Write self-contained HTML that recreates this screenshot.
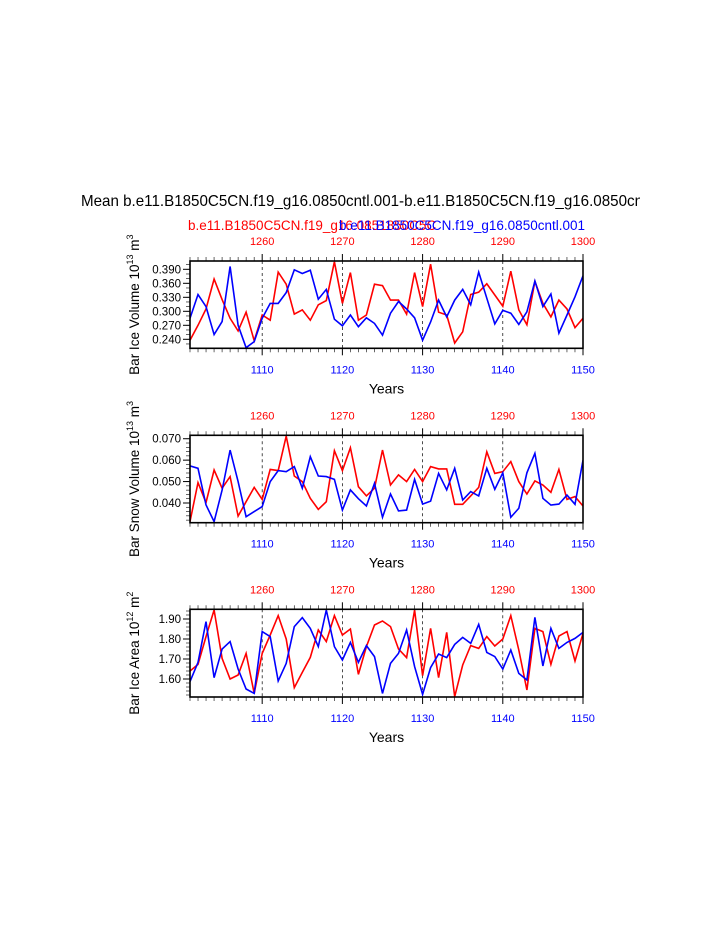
<!DOCTYPE html>
<html><head><meta charset="utf-8"><style>
body{margin:0;background:#fff;}
svg{display:block;font-family:"Liberation Sans",Arial,sans-serif;}
</style></head><body>
<svg id="chart" width="723" height="935" viewBox="0 0 723 935" xmlns="http://www.w3.org/2000/svg">
<defs><clipPath id="tclip"><rect x="82" y="180" width="558" height="40"/></clipPath></defs>
<text x="81" y="206" font-size="16" textLength="562" lengthAdjust="spacingAndGlyphs" clip-path="url(#tclip)">Mean b.e11.B1850C5CN.f19_g16.0850cntl.001-b.e11.B1850C5CN.f19_g16.0850cn</text>
<text x="188" y="230" font-size="13.5" fill="#f00">b.e11.B1850C5CN.f19_g16.0851850C5C</text>
<text x="585" y="230" font-size="13.5" fill="#00f" text-anchor="end">b.e11.B1850C5CN.f19_g16.0850cntl.001</text>
</svg>
<script>
const years = Array.from({length:50},(_,i)=>1101+i);
const topTicks = [1260,1270,1280,1290,1300];
const bottomTicks = [1110,1120,1130,1140,1150];
const iceVolBlue = [0.285,0.336,0.31,0.250,0.278,0.396,0.27,0.222,0.235,0.285,0.317,0.317,0.340,0.389,0.381,0.388,0.326,0.347,0.283,0.269,0.292,0.267,0.286,0.274,0.249,0.296,0.321,0.305,0.286,0.238,0.277,0.324,0.288,0.324,0.347,0.314,0.384,0.328,0.273,0.302,0.296,0.272,0.299,0.365,0.310,0.337,0.253,0.292,0.331,0.376];
const iceVolRed = [0.238,0.270,0.305,0.369,0.325,0.285,0.258,0.298,0.237,0.292,0.281,0.384,0.358,0.294,0.303,0.281,0.314,0.323,0.406,0.317,0.383,0.281,0.292,0.358,0.355,0.324,0.324,0.294,0.383,0.310,0.401,0.298,0.292,0.232,0.256,0.336,0.341,0.359,0.335,0.311,0.386,0.303,0.271,0.364,0.317,0.288,0.324,0.305,0.265,0.285];
const snowBlue = [0.0573,0.0562,0.0391,0.0313,0.046,0.0647,0.050,0.0336,0.036,0.0383,0.050,0.0551,0.0546,0.057,0.0469,0.0616,0.0526,0.0523,0.051,0.0367,0.0461,0.042,0.0386,0.0492,0.0333,0.0442,0.0363,0.0367,0.051,0.0395,0.0409,0.0538,0.0461,0.0562,0.0414,0.0453,0.0433,0.0562,0.0464,0.0541,0.0333,0.0375,0.0541,0.0632,0.0422,0.039,0.0395,0.0437,0.0394,0.060];
const snowRed = [0.0313,0.0495,0.0402,0.0554,0.0469,0.0523,0.0339,0.0406,0.0473,0.0417,0.0557,0.0551,0.0712,0.0526,0.050,0.0422,0.0370,0.0406,0.0644,0.0551,0.0658,0.0476,0.0433,0.0469,0.0647,0.0484,0.0531,0.050,0.0557,0.050,0.057,0.0559,0.0559,0.0394,0.0394,0.0433,0.0473,0.0639,0.0538,0.0546,0.0593,0.050,0.0442,0.0503,0.0484,0.045,0.0557,0.0417,0.0430,0.0386];
const areaBlue = [1.587,1.683,1.887,1.607,1.75,1.787,1.65,1.55,1.528,1.837,1.812,1.59,1.678,1.862,1.907,1.853,1.762,1.945,1.762,1.695,1.783,1.683,1.767,1.712,1.528,1.678,1.728,1.845,1.662,1.523,1.657,1.725,1.707,1.773,1.808,1.778,1.873,1.733,1.712,1.65,1.745,1.628,1.595,1.908,1.665,1.853,1.753,1.783,1.803,1.833];
const areaRed = [1.64,1.673,1.812,1.945,1.703,1.60,1.62,1.728,1.528,1.728,1.82,1.917,1.80,1.557,1.633,1.708,1.845,1.787,1.917,1.82,1.85,1.623,1.762,1.87,1.89,1.862,1.75,1.707,1.945,1.617,1.853,1.607,1.833,1.512,1.67,1.767,1.753,1.812,1.765,1.80,1.917,1.745,1.545,1.853,1.837,1.673,1.815,1.837,1.69,1.828];
const volTicks = [0.240,0.270,0.300,0.330,0.360,0.390];
const snowTicks = [0.040,0.050,0.060,0.070];
const areaTicks = [1.60,1.70,1.80,1.90];

const svg=document.getElementById('chart');
const NS='http://www.w3.org/2000/svg';
function mk(tag,attrs,parent){const e=document.createElementNS(NS,tag);for(const k in attrs)e.setAttribute(k,attrs[k]);(parent||svg).appendChild(e);return e;}
const X0=190,X1=583;
function xs(y){return X0+(y-1101)*(X1-X0)/49;}

function panel(id,top,bot,vmin,vmax,ticks,dec,minorStep,blue,red,titleMain,titleExp){
  const g=mk('g',{});
  
  
  const ys=v=>bot-(v-vmin)*(bot-top)/(vmax-vmin);
  [1110,1120,1130,1140].forEach(t=>{const l=mk('line',{x1:xs(t),x2:xs(t),y1:top,y2:bot,stroke:'#000','stroke-width':0.7,'stroke-dasharray':'3,3'},g);
    });
  years.forEach(y=>{const big=(y%10===0);const L=big?7:4;
    mk('line',{x1:xs(y),x2:xs(y),y1:top,y2:top-L,stroke:'#000','stroke-width':big?1:0.6},g);
    mk('line',{x1:xs(y),x2:xs(y),y1:bot,y2:bot+L,stroke:'#000','stroke-width':big?1:0.6},g);});
  topTicks.forEach((t,i)=>{const tx=mk('text',{x:xs(bottomTicks[i]),y:top-16,'font-size':11,fill:'#f00','text-anchor':'middle'},g);tx.textContent=t;
    });
  bottomTicks.forEach(t=>{const tx=mk('text',{x:xs(t),y:bot+25,'font-size':11,fill:'#00f','text-anchor':'middle'},g);tx.textContent=t;
    });
  for(let v=Math.ceil(vmin/minorStep)*minorStep;v<=vmax+1e-9;v+=minorStep){const yy=ys(v);mk('line',{x1:X0,x2:X0-4,y1:yy,y2:yy,stroke:'#000','stroke-width':0.6},g);}
  ticks.forEach(v=>{const yy=ys(v);mk('line',{x1:X0,x2:X0-7,y1:yy,y2:yy,stroke:'#000','stroke-width':1},g);
    const tx=mk('text',{x:X0-9,y:yy+4,'font-size':11.5,'text-anchor':'end'},g);tx.textContent=v.toFixed(dec);
    });
  const pts=arr=>arr.map((v,i)=>xs(years[i]).toFixed(1)+','+ys(v).toFixed(1)).join(' ');
  const cp='clip-'+id;
  const c=mk('clipPath',{id:cp},g);mk('rect',{x:X0,y:top,width:X1-X0,height:bot-top},c);
  const rl=mk('polyline',{points:pts(red),fill:'none',stroke:'#f00','stroke-width':1.6,'clip-path':'url(#'+cp+')'},g);
  
  const bl=mk('polyline',{points:pts(blue),fill:'none',stroke:'#00f','stroke-width':1.6,'clip-path':'url(#'+cp+')'},g);
  
  const fr=mk('rect',{x:X0,y:top,width:X1-X0,height:bot-top,fill:'none',stroke:'#000','stroke-width':1.6},g);
  
  const xt=mk('text',{x:(X0+X1)/2,y:bot+45,'font-size':14,'text-anchor':'middle'},g);xt.textContent='Years';
  
  const cy=(top+bot)/2;
  const yt=mk('text',{x:0,y:0,'font-size':13.5,'text-anchor':'middle',transform:'translate(139,'+cy+') rotate(-90)'},g);
  
  yt.appendChild(document.createTextNode(titleMain+' 10'));
  const s1=mk('tspan',{'font-size':9,dy:-6},yt);s1.textContent=titleExp;
  const s2=mk('tspan',{dy:6},yt);s2.textContent=' m';
  const s3=mk('tspan',{'font-size':9,dy:-6},yt);s3.textContent=(id==='area'?'2':'3');
}
panel('ice-volume',261,348.3,0.2207,0.4078,volTicks,3,0.01,iceVolBlue,iceVolRed,'Bar Ice Volume','13');
panel('snow-volume',435.3,522.7,0.0308,0.0716,snowTicks,3,0.002,snowBlue,snowRed,'Bar Snow Volume','13');
panel('area',609.3,697,1.51,1.9485,areaTicks,2,0.02,areaBlue,areaRed,'Bar Ice Area','12');
</script>
</body></html>
